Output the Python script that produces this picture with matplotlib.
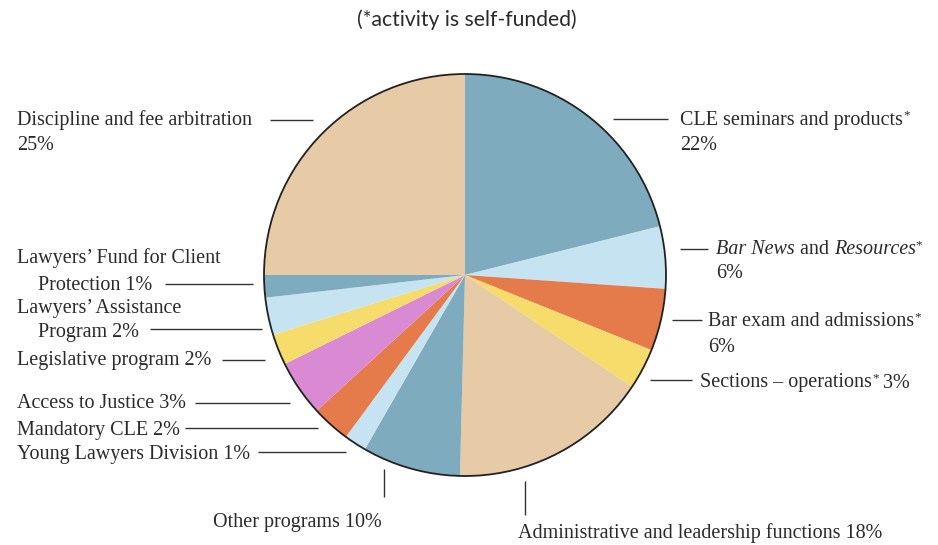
import matplotlib
matplotlib.use("Agg")
import matplotlib.pyplot as plt
from matplotlib.patches import Circle

# ---------------- data ----------------
categories = [
    "CLE seminars and products", "Bar News and Resources", "Bar exam and admissions",
    "Sections \u2013 operations", "Administrative and leadership functions",
    "Other programs", "Young Lawyers Division", "Mandatory CLE", "Access to Justice",
    "Legislative program", "Lawyers' Assistance Program",
    "Lawyers' Fund for Client Protection", "Discipline and fee arbitration",
]
# percentages printed in the labels
label_pcts = [22, 6, 6, 3, 18, 10, 1, 2, 3, 2, 2, 1, 25]
# slice shares as drawn in the picture (measured angles, % of circle)
slice_shares = [21.1, 5.0, 5.0, 3.3, 16.0, 7.9, 1.8, 3.1, 4.5, 2.5, 3.0, 1.8, 25.0]
self_funded = [True, True, True, True, False, False, False, False, False, False, False, False, False]

STEEL = "#7eabbd"
LIGHT = "#c6e3f1"
ORANGE = "#e57a4b"
YELLOW = "#f6dc6b"
TAN = "#e7caa6"
PINK = "#d98ad3"
slice_colors = [STEEL, LIGHT, ORANGE, YELLOW, TAN, STEEL, LIGHT, ORANGE, PINK,
                YELLOW, LIGHT, STEEL, TAN]

W, H = 938, 545
fig = plt.figure(figsize=(W / 100, H / 100), dpi=100)
ax = fig.add_axes([0, 0, 1, 1])

CX, CY, R = 465, 275, 201   # pixel coords (y from top)

ax.pie(slice_shares, colors=slice_colors, startangle=90, counterclock=False,
       center=(CX, H - CY), radius=R, wedgeprops=dict(linewidth=0))
ax.add_patch(Circle((CX, H - CY), R, fill=False, edgecolor="#222222", linewidth=1.3))
ax.set_xlim(0, W)
ax.set_ylim(0, H)
ax.set_aspect("equal")
ax.axis("off")

SERIF = "Liberation Serif"
FS = 14.5
TXT = "#2a2a2a"
renderer = fig.canvas.get_renderer()


def Y(y):
    return H - y


def rich(x, y, parts):
    """parts: list of (text, style, size_factor, raise_px)"""
    cx = x
    for text, style, sf, rz in parts:
        t = ax.text(cx, Y(y + 2) + rz, text, fontsize=FS * sf, family=SERIF, style=style,
                    color=TXT, ha="left", va="center")
        bb = t.get_window_extent(renderer)
        cx += bb.width
    return cx


def line(x0, y0, x1, y1):
    ax.plot([x0, x1], [Y(y0), Y(y1)], color="#333333", lw=1.0, solid_capstyle="butt")


STAR = ("*", "normal", 0.65, 5)

# Title
ax.text(467, Y(20), "(*activity is self-funded)", fontsize=15.2, family="Lato",
        color=TXT, ha="center", va="center")

# Right side labels
rich(680, 118, [("CLE seminars and products", "normal", 1, 0), STAR])
rich(680, 143, [(f"{label_pcts[0]}%", "normal", 1, 0)])
line(613, 119, 668, 119)

rich(716, 248, [("Bar News", "italic", 1, 0), (" and ", "normal", 1, 0),
                ("Resources", "italic", 1, 0), STAR])
rich(716, 272, [(f"{label_pcts[1]}%", "normal", 1, 0)])
line(680, 249, 708, 249)

rich(708, 320, [("Bar exam and admissions", "normal", 1, 0), STAR])
rich(708, 345, [(f"{label_pcts[2]}%", "normal", 1, 0)])
line(672, 320, 702, 320)

x = rich(700, 381, [("Sections \u2013 operations", "normal", 1, 0), STAR])
rich(x, 381, [(f" {label_pcts[3]}%", "normal", 1, 0)])
line(650, 380, 692, 380)

# Bottom labels
rich(518, 531, [(f"Administrative and leadership functions {label_pcts[4]}%", "normal", 1, 0)])
line(525, 481, 525, 515)

rich(213, 521, [(f"Other programs {label_pcts[5]}%", "normal", 1, 0)])
line(384, 469, 384, 497)

# Left labels
rich(17, 118, [("Discipline and fee arbitration", "normal", 1, 0)])
rich(17, 143, [(f"{label_pcts[12]}%", "normal", 1, 0)])
line(270, 120, 313, 120)

rich(17, 256, [("Lawyers\u2019 Fund for Client", "normal", 1, 0)])
rich(38, 283, [(f"Protection {label_pcts[11]}%", "normal", 1, 0)])
line(165, 284, 253, 284)

rich(17, 306, [("Lawyers\u2019 Assistance", "normal", 1, 0)])
rich(38, 330, [(f"Program {label_pcts[10]}%", "normal", 1, 0)])
line(150, 329, 262, 329)

rich(17, 358, [(f"Legislative program {label_pcts[9]}%", "normal", 1, 0)])
line(222, 360, 265, 360)

rich(17, 402, [(f"Access to Justice {label_pcts[8]}%", "normal", 1, 0)])
line(195, 403, 290, 403)

rich(17, 428, [(f"Mandatory CLE {label_pcts[7]}%", "normal", 1, 0)])
line(185, 428, 318, 428)

rich(17, 453, [(f"Young Lawyers Division {label_pcts[6]}%", "normal", 1, 0)])
line(258, 452, 346, 452)

fig.savefig("out.png", dpi=100, facecolor="white")
